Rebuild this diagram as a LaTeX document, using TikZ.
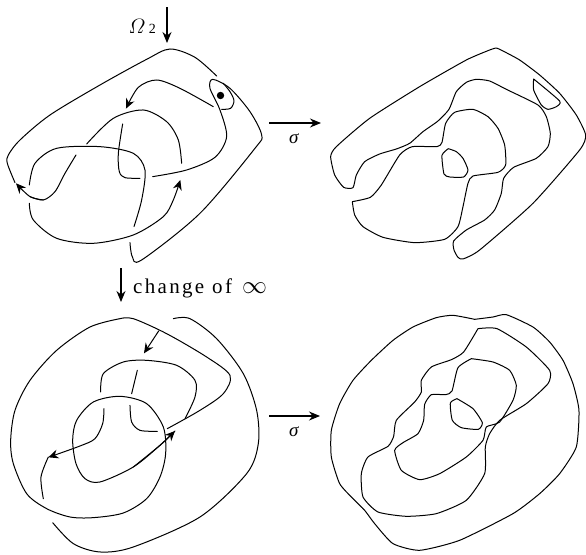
\documentclass[tikz,border=0pt]{standalone}
\usepackage{fontspec}
\setmainfont{Liberation Serif}
\usetikzlibrary{arrows.meta}
\tikzset{
  knot/.style={line width=1pt,line cap=round,line join=round,smooth,tension=0.5},
  crisp/.style={tension=0.35},
  tip/.style={-{Stealth[length=10pt,width=9pt]}},
  maparrow/.style={line width=1.1pt,-{Stealth[length=11pt,width=9pt]}},
  lbl/.style={inner sep=0pt}
}
\newcommand{\zcurve}[3][]{\draw[knot,#1,shift={(#2)},x=0.3333pt,y=-0.3333pt] plot coordinates {#3};}
\begin{document}
\begin{tikzpicture}[x=1pt,y=-1pt]
\useasboundingbox (0,0) rectangle (586,554);
% top left
\zcurve{0,0}{(650,228)(585,172)(510,147)(440,178)(300,255)(150,345)(60,420)(25,465)(22,490)(45,548)}
\zcurve{0,0}{(228,465)(195,520)(165,575)(130,600)(90,590)}
\zcurve[tip]{0,0}{(130,600)(90,590)(48,550)}
\zcurve[tip]{0,0}{(640,320)(540,265)(470,240)(415,262)(378,326)}
\zcurve{0,0}{(260,432)(340,355)(430,330)(500,365)(535,420)(545,490)}
\zcurve{0,0}{(368,372)(355,460)(358,515)(375,533)(420,535)}
\zcurve{0,0}{(458,530)(560,510)(645,472)(680,410)(660,330)(630,265)(638,238)(690,265)(750,335)(785,405)(765,445)(600,640)(425,780)(397,770)(390,728)}
\zcurve{0,0}{(665,328)(692,325)(702,302)(690,275)(670,250)}
\zcurve{0,0}{(88,555)(105,490)(170,445)(300,440)(400,460)(435,510)(425,600)(402,680)}
\zcurve[tip]{0,0}{(88,610)(100,660)(170,715)(280,730)(400,705)(490,650)(520,600)(541,540)}
\fill (220.5,95.5) circle (3.7pt);
% top right
\zcurve[crisp]{293,50}{(590,0)(520,30)(380,110)(230,205)(130,290)(113,320)(125,375)(152,412)(180,413)(190,375)(215,335)(260,312)(310,297)(350,280)(390,245)(435,213)(468,178)(490,125)(520,97)(550,88)(590,93)(640,118)(735,165)(760,200)(772,250)(765,290)(730,325)(662,352)(632,385)(625,430)(605,480)(575,510)(520,540)(482,573)(483,600)(495,622)(510,627)(560,600)(720,460)(860,300)(878,255)(850,195)(800,130)(740,75)(680,30)(630,3)(610,-6)(590,0)}
\zcurve[crisp]{293,50}{(178,455)(185,495)(210,530)(270,562)(365,578)(455,568)(495,530)(510,470)(525,400)(540,378)(615,367)(638,345)(635,285)(615,235)(585,200)(540,178)(485,187)(458,220)(447,277)(432,290)(358,290)(320,315)(265,405)(232,442)(178,455)}
\zcurve[crisp]{293,50}{(466,296)(447,316)(453,372)(470,381)(512,381)(525,360)(510,325)(490,305)(466,296)}
\zcurve[crisp]{293,50}{(722,87)(800,153)(790,170)(765,178)(745,165)(722,120)(722,87)}
% bottom left
\zcurve{0,277}{(130,665)(123,600)(145,540)}
\zcurve[tip]{0,277}{(312,395)(308,440)(285,485)(240,507)(145,541)}
\zcurve{0,277}{(360,125)(270,150)(170,220)(90,310)(45,400)(32,490)(40,560)(80,650)(140,695)(210,720)(280,722)(370,708)(440,665)(480,600)(497,530)(490,450)(440,380)(360,358)(280,375)(230,430)(218,490)(228,560)(255,605)(300,615)(400,570)(480,505)(525,462)}
\zcurve{0,277}{(360,125)(400,125)(500,170)(620,240)(690,295)(670,350)(600,400)(502,455)}
\zcurve[tip]{0,277}{(400,570)(480,505)(525,462)}
\zcurve{0,277}{(520,125)(570,125)(650,185)(730,290)(770,400)(775,500)(740,590)(600,720)(400,810)(300,825)(220,800)(158,737)}
\zcurve{0,277}{(302,345)(310,290)(370,255)(440,250)(530,265)(585,310)(585,360)(555,425)}
\zcurve{0,277}{(412,280)(395,350)}
\zcurve{0,277}{(390,385)(395,435)(420,460)(472,463)}
\zcurve[tip]{0,277}{(476,162)(432,229)}
% bottom right
\zcurve[crisp]{293,277}{(545,127)(480,115)(430,122)(360,150)(300,190)(235,250)(180,310)(140,380)(115,460)(115,540)(140,620)(180,665)(215,700)(245,740)(300,800)(380,820)(500,790)(660,710)(740,650)(800,590)(850,510)(858,400)(840,320)(810,250)(770,195)(720,150)(640,113)(600,120)(545,127)}
\zcurve[crisp]{293,277}{(555,155)(612,155)(700,210)(770,280)(765,320)(700,380)(620,430)(590,470)(577,510)(575,590)(520,670)(430,710)(340,718)(255,705)(210,660)(205,590)(225,540)(285,508)(302,478)(310,430)(365,375)(385,345)(385,310)(415,270)(475,248)(512,225)(555,155)}
\zcurve[crisp]{293,277}{(535,245)(495,272)(477,342)(458,353)(415,353)(395,382)(392,430)(375,470)(330,497)(305,520)(325,580)(380,608)(440,590)(520,540)(570,490)(580,450)(620,435)(660,370)(670,325)(650,280)(600,255)(535,245)}
\zcurve[crisp]{293,277}{(492,365)(472,378)(478,430)(505,452)(556,457)(568,437)(540,395)(492,365)}
% arrows and labels
\coordinate (a1s) at (167,7);\coordinate (a1e) at (167,43);
\draw[maparrow] (a1s) -- (a1e);
\node[lbl,anchor=base east] (om) at (156,33) {\fontsize{21}{24}\selectfont$\mathnormal{\Omega}$\,\fontsize{14}{16}\selectfont 2};
\coordinate (a2s) at (269,123);\coordinate (a2e) at (321,123);
\draw[maparrow] (a2s) -- (a2e);
\node[lbl] (s1) at (294,139) {\fontsize{19}{21}\selectfont\textit{σ}};
\coordinate (a3s) at (121,268);\coordinate (a3e) at (121,302);
\draw[maparrow] (a3s) -- (a3e);
\node[lbl,anchor=base west] (ch) at (133,293) {\fontsize{21}{22}\selectfont\addfontfeature{LetterSpace=11}change\hspace{8pt}of\hspace{10pt}\fontsize{25}{25}\selectfont$\infty$};
\coordinate (a4s) at (269,416);\coordinate (a4e) at (320,416);
\draw[maparrow] (a4s) -- (a4e);
\node[lbl] (s2) at (294,432) {\fontsize{19}{21}\selectfont\textit{σ}};
\end{tikzpicture}
\end{document}
